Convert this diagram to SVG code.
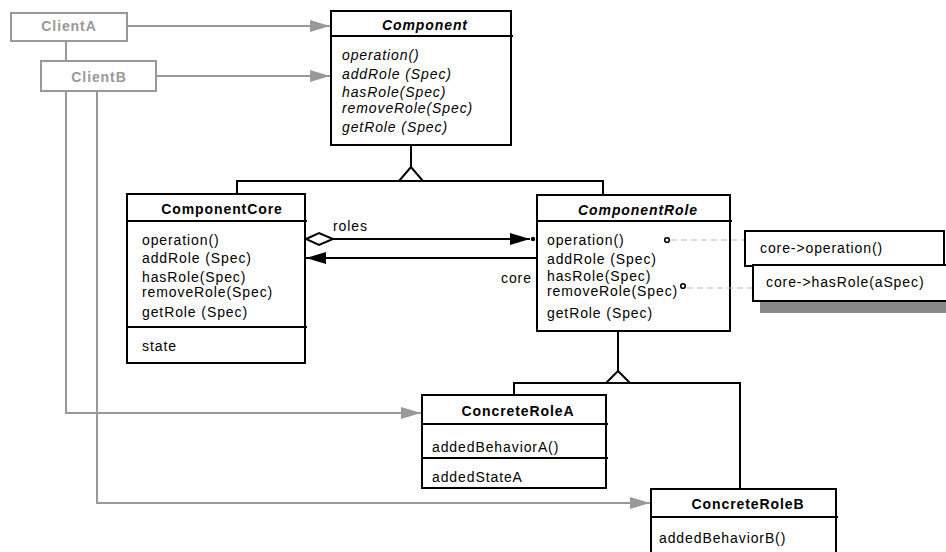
<svg xmlns="http://www.w3.org/2000/svg" width="946" height="552" viewBox="0 0 946 552">
<defs>
<style>
.box{fill:#fff;stroke:#000;stroke-width:2}
.gbox{fill:#fff;stroke:#999;stroke-width:2}
.ln{fill:none;stroke:#000;stroke-width:2}
.gln{fill:none;stroke:#999;stroke-width:2}
.dash{fill:none;stroke:#bbb;stroke-width:1;stroke-dasharray:6 4}
text{font-family:"Liberation Sans",Arial,sans-serif;font-size:14px;letter-spacing:0.9px;fill:#000}
.t{font-weight:bold;text-anchor:middle}
.ti{font-weight:bold;font-style:italic;text-anchor:middle}
.it{font-style:italic}
.gt{font-weight:bold;text-anchor:middle;fill:#999}
</style>
<marker id="ag" markerUnits="userSpaceOnUse" markerWidth="20" markerHeight="12" refX="20" refY="6" orient="auto"><path d="M0,0 L20,6 L0,12 z" fill="#999"/></marker>
<marker id="ab" markerUnits="userSpaceOnUse" markerWidth="20" markerHeight="12" refX="20" refY="6" orient="auto"><path d="M0,0 L20,6 L0,12 z" fill="#000"/></marker>
</defs>
<rect width="946" height="552" fill="#fff"/>

<g id="ClientA">
<rect class="gbox" x="11" y="13" width="116" height="28"/>
<text class="gt" x="69" y="31">ClientA</text>
</g>
<g id="ClientB">
<rect class="gbox" x="41" y="61" width="115" height="30"/>
<text class="gt" x="99" y="82">ClientB</text>
</g>

<g id="Component">
<rect class="box" x="331" y="11" width="180" height="134"/>
<line class="ln" x1="331" y1="36" x2="513" y2="36"/>
<text class="ti" x="425" y="30">Component</text>
<text class="it" x="342" y="60">operation()</text>
<text class="it" x="342" y="79">addRole (Spec)</text>
<text class="it" x="342" y="97">hasRole(Spec)</text>
<text class="it" x="342" y="113">removeRole(Spec)</text>
<text class="it" x="342" y="132">getRole (Spec)</text>
</g>

<g id="ComponentCore">
<rect class="box" x="127" y="194" width="178" height="169"/>
<line class="ln" x1="127" y1="221" x2="307" y2="221"/>
<line class="ln" x1="127" y1="327" x2="307" y2="327"/>
<text class="t" x="222" y="214">ComponentCore</text>
<text x="142" y="245">operation()</text>
<text x="142" y="263">addRole (Spec)</text>
<text x="142" y="282">hasRole(Spec)</text>
<text x="142" y="297">removeRole(Spec)</text>
<text x="142" y="317">getRole (Spec)</text>
<text x="142" y="351">state</text>
</g>

<g id="ComponentRole">
<rect class="box" x="537" y="195" width="193" height="136"/>
<line class="ln" x1="537" y1="221" x2="732" y2="221"/>
<text class="ti" x="638" y="215">ComponentRole</text>
<text x="547" y="245">operation()</text>
<text x="547" y="264">addRole (Spec)</text>
<text x="547" y="281">hasRole(Spec)</text>
<text x="547" y="296">removeRole(Spec)</text>
<text x="547" y="318">getRole (Spec)</text>
</g>

<g id="Note1">
<rect class="box" x="745" y="231" width="199" height="35"/>
<text x="760" y="253">core-&gt;operation()</text>
</g>
<g id="Note2">
<rect x="760" y="301" width="190" height="12" fill="#888"/>
<rect class="box" x="753" y="265" width="200" height="36"/>
<text x="766" y="287">core-&gt;hasRole(aSpec)</text>
</g>

<g id="ConcreteRoleA">
<rect class="box" x="422" y="395" width="184" height="93"/>
<line class="ln" x1="422" y1="424" x2="608" y2="424"/>
<line class="ln" x1="422" y1="458" x2="608" y2="458"/>
<text class="t" x="518" y="416">ConcreteRoleA</text>
<text x="432" y="452">addedBehaviorA()</text>
<text x="432" y="482">addedStateA</text>
</g>

<g id="ConcreteRoleB">
<rect class="box" x="651" y="489" width="185" height="70"/>
<line class="ln" x1="651" y1="517" x2="838" y2="517"/>
<text class="t" x="748" y="509">ConcreteRoleB</text>
<text x="659" y="543">addedBehaviorB()</text>
</g>

<g id="connectors">
<line class="gln" x1="127" y1="26" x2="330" y2="26" marker-end="url(#ag)"/>
<line class="gln" x1="156" y1="76" x2="330" y2="76" marker-end="url(#ag)"/>
<line class="gln" x1="66" y1="42" x2="66" y2="60"/>
<polyline class="gln" points="66,92 66,413 421,413" marker-end="url(#ag)"/>
<polyline class="gln" points="97,92 97,503 650,503" marker-end="url(#ag)"/>
<line class="ln" x1="411" y1="146" x2="411" y2="167"/>
<polyline class="ln" points="237,193 237,181 603,181 603,194"/>
<polygon class="box" points="411,167 399,181 423,181"/>
<line class="ln" x1="333" y1="239" x2="530" y2="239" marker-end="url(#ab)"/>
<circle cx="533" cy="239" r="2.2" fill="#000"/>
<polygon class="box" points="306,239 319,233 333,239 319,245"/>
<line class="ln" x1="536" y1="258" x2="306" y2="258" marker-end="url(#ab)"/>
<text x="333" y="231">roles</text>
<text x="501" y="283">core</text>
<line class="ln" x1="618" y1="332" x2="618" y2="371"/>
<polyline class="ln" points="514,394 514,383 740,383 740,488"/>
<polygon class="box" points="618,371 606,383 630,383"/>
<line class="dash" x1="671" y1="240" x2="744" y2="240"/>
<line class="dash" x1="687" y1="288" x2="752" y2="288"/>
<circle cx="667" cy="240" r="2.3" fill="#fff" stroke="#000" stroke-width="1.6"/>
<circle cx="683" cy="286" r="2.3" fill="#fff" stroke="#000" stroke-width="1.6"/>
</g>
</svg>
